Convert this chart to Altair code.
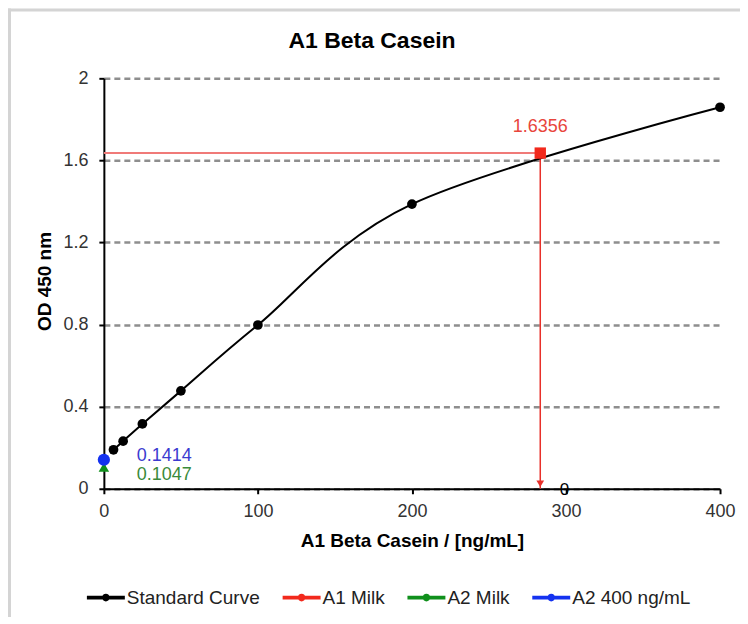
import altair as alt
import pandas as pd

# ---- data ----
std_conc = [6.25, 12.5, 25, 50, 100, 200, 400]
std_od = [0.19, 0.232, 0.316, 0.477, 0.798, 1.387, 1.859]

sample_names = ["A1 Milk", "A2 Milk", "A2 400 ng/mL"]
sample_conc = [283.3, 0, 0]
sample_od = [1.6356, 0.1047, 0.1414]
sample_text = ["1.6356", "0.1047", "0.1414"]

stray_label_conc = [299]
stray_label_od = [0]
stray_label_text = ["0"]

series = ["Standard Curve", "A1 Milk", "A2 Milk", "A2 400 ng/mL"]
series_colors = ["#000000", "#f2291c", "#10901c", "#1432f0"]

x_ticks = [0, 100, 200, 300, 400]
y_ticks = [0, 0.4, 0.8, 1.2, 1.6, 2]

FONT = "Liberation Sans"

std_df = pd.DataFrame({"conc": std_conc, "od": std_od, "series": "Standard Curve"})
samp_df = pd.DataFrame({"conc": sample_conc, "od": sample_od, "series": sample_names,
                        "label": sample_text})
a1_df = samp_df[samp_df.series == "A1 Milk"].assign(zero=0.0)
a2_df = samp_df[samp_df.series == "A2 Milk"]
a24_df = samp_df[samp_df.series == "A2 400 ng/mL"]
stray_df = pd.DataFrame({"conc": stray_label_conc, "od": stray_label_od, "label": stray_label_text})

x_axis = alt.Axis(values=x_ticks, format="d", labelFontSize=18, labelFont=FONT, labelColor="#333333",
                  tickSize=5, tickColor="black", tickWidth=2, domainColor="black", domainWidth=2,
                  grid=False, labelPadding=9, labelFlush=False,
                  title="A1 Beta Casein / [ng/mL]", titleFont=FONT, titleFontSize=19,
                  titleFontWeight="bold", titleColor="black", titleX=308.5, titleY=52,
                  titleBaseline="middle", titleAlign="center")
y_axis = alt.Axis(values=y_ticks, format="~g", labelFontSize=18, labelFont=FONT, labelColor="#333333",
                  tickSize=5, tickColor="black", tickWidth=2, domainColor="black", domainWidth=2,
                  grid=True, gridDash=[6, 4], gridColor="#8e8e8e", gridWidth=2.5,
                  labelPadding=11, labelFlush=False,
                  title="OD 450 nm", titleFont=FONT, titleFontSize=19, titleFontWeight="bold",
                  titleColor="black", titleX=-59, titleY=203, titleAngle=270,
                  titleBaseline="middle", titleAlign="center")

xs = alt.Scale(domain=[0, 400], nice=False, zero=False)
ys = alt.Scale(domain=[0, 2], nice=False, zero=False)

def X(f="conc"):
    return alt.X(f"{f}:Q", scale=xs, axis=x_axis)

def Y(f="od"):
    return alt.Y(f"{f}:Q", scale=ys, axis=y_axis)

# frame (decoration)
frame_top = alt.Chart(pd.DataFrame({"a": [0]})).mark_rule(color="#d4d4d4", strokeWidth=3).encode(
    x=alt.value(-96), x2=alt.value(650), y=alt.value(-68.5))
frame_left = alt.Chart(pd.DataFrame({"a": [0]})).mark_rule(color="#d4d4d4", strokeWidth=3).encode(
    x=alt.value(-94.5), y=alt.value(-70), y2=alt.value(560))

hline = alt.Chart(a1_df).mark_rule(color="#f07a78", strokeWidth=2).encode(
    x=X("zero"), x2="conc:Q", y=Y())
vline = alt.Chart(a1_df).mark_rule(color="#e8302a", strokeWidth=1.5).encode(
    x=X(), y=Y(), y2="zero:Q")
arrow = alt.Chart(a1_df).mark_point(shape="triangle-down", filled=True, color="#e8302a",
                                    size=60, opacity=1, yOffset=-5).encode(x=X(), y=Y("zero"))

curve = alt.Chart(std_df).mark_line(color="black", strokeWidth=2, interpolate="cardinal").encode(
    x=X(), y=Y())

legend_path = ("M-1,-0.1H1V0.1H-1Z "
               "M-0.2,0A0.2,0.2 0 1,1 0.2,0A0.2,0.2 0 1,1 -0.2,0Z")

std_points = alt.Chart(std_df).mark_point(filled=True, opacity=1, size=95).encode(
    x=X(), y=Y(),
    color=alt.Color("series:N", scale=alt.Scale(domain=series, range=series_colors),
                    legend=alt.Legend(title=None, orient="none", legendX=-17, legendY=501,
                                      direction="horizontal", labelFontSize=19, labelFont=FONT,
                                      labelColor="#222222", symbolType=legend_path,
                                      symbolSize=1444, symbolStrokeWidth=0, labelOffset=2,
                                      columnPadding=22, symbolOpacity=1, padding=0)),
)

p_a1 = alt.Chart(a1_df).mark_point(filled=True, opacity=1, shape="square", size=130,
                                   color=series_colors[1]).encode(x=X(), y=Y())
p_a2 = alt.Chart(a2_df).mark_point(filled=True, opacity=1, shape="triangle-up", size=110,
                                   color=series_colors[2]).encode(x=X(), y=Y())
p_a24 = alt.Chart(a24_df).mark_point(filled=True, opacity=1, shape="circle", size=150,
                                     color=series_colors[3]).encode(x=X(), y=Y())

t_a1 = alt.Chart(a1_df).mark_text(
    color="#e8453c", fontSize=18, font=FONT, dy=-26, baseline="middle", align="center").encode(
    x=X(), y=Y(), text="label:N")
t_a2 = alt.Chart(a2_df).mark_text(
    color="#3a8a3a", fontSize=18, font=FONT, dx=33, dy=8, baseline="middle", align="left").encode(
    x=X(), y=Y(), text="label:N")
t_a24 = alt.Chart(a24_df).mark_text(
    color="#3b3bd0", fontSize=18, font=FONT, dx=33, dy=-4, baseline="middle", align="left").encode(
    x=X(), y=Y(), text="label:N")
t_stray = alt.Chart(stray_df).mark_text(
    color="black", fontSize=17, font=FONT, dx=0, dy=1, baseline="middle", align="center").encode(
    x=X(), y=Y(), text="label:N")

chart = alt.layer(frame_top, frame_left, hline, vline, arrow, curve, std_points,
                  p_a1, p_a2, p_a24, t_a1, t_a2, t_a24, t_stray).properties(
    width=617, height=411,
    title=alt.TitleParams("A1 Beta Casein", fontSize=23, font=FONT, fontWeight="bold", color="black",
                          anchor="middle", frame="group", dx=-40, offset=-64, baseline="alphabetic"),
    autosize=alt.AutoSizeParams(type="none"),
    padding={"left": 96, "top": 70, "right": 20, "bottom": 128},
    background="white",
).configure_view(stroke=None)

chart.save("out.html", embed_options={"renderer": "svg", "actions": False})
